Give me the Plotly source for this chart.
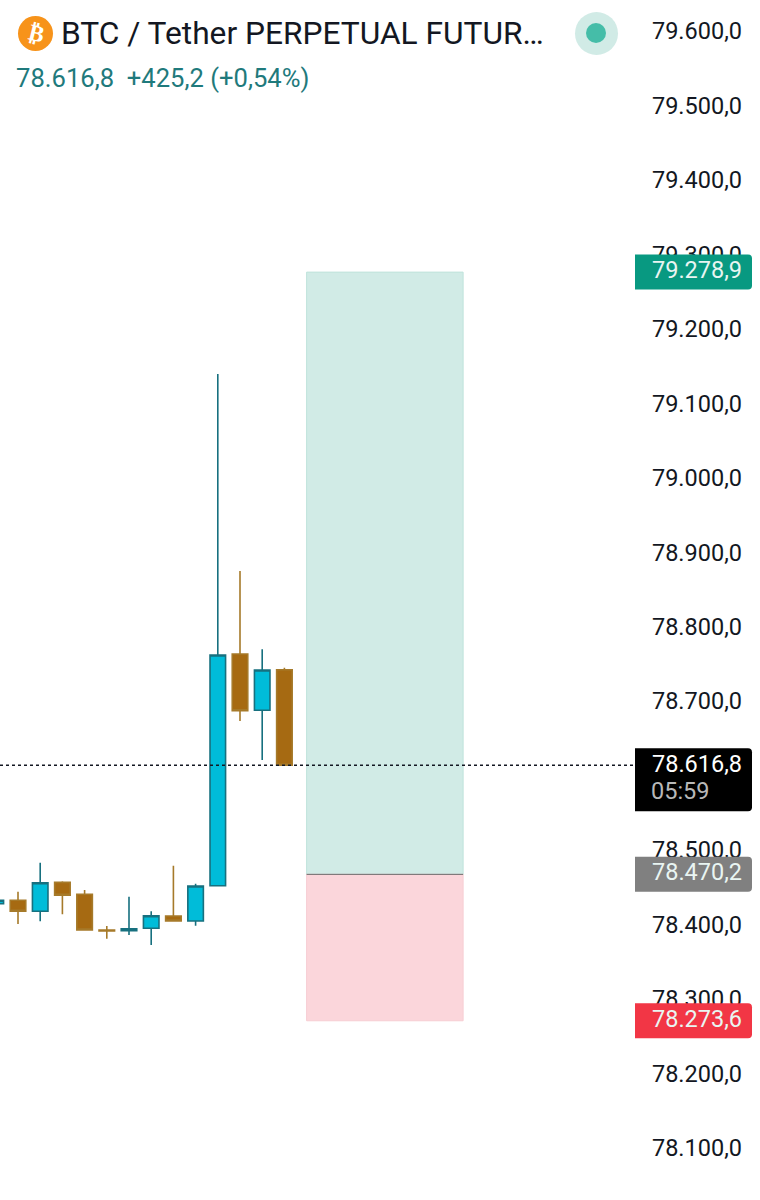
import plotly.graph_objects as go

W, H = 760, 1200

# ---- Data ----
candle_index = [-1, 0, 1, 2, 3, 4, 5, 6, 7, 8, 9, 10, 11, 12]
opens  = [78430.8, 78435.4, 78420.6, 78459.5, 78443.4, 78395.5, 78394.5, 78397.8, 78414.3, 78407.6, 78455.0, 78766.1, 78690.5, 78745.0]
highs  = [78435.4, 78446.9, 78485.9, 78460.9, 78449.2, 78400.9, 78440.2, 78420.6, 78481.8, 78457.7, 79142.1, 78877.6, 78772.4, 78747.7]
lows   = [78430.8, 78403.5, 78407.2, 78416.6, 78395.5, 78383.8, 78388.8, 78375.3, 78407.6, 78401.3, 78455.0, 78676.1, 78623.8, 78616.8]
closes = [78435.4, 78420.6, 78459.0, 78442.1, 78395.5, 78394.1, 78397.2, 78414.7, 78407.6, 78454.6, 78764.8, 78690.0, 78744.6, 78616.8]

tick_values = [79600, 79500, 79400, 79300, 79200, 79100, 79000, 78900, 78800, 78700, 78500, 78400, 78300, 78200, 78100]
tick_labels = ["79.600,0", "79.500,0", "79.400,0", "79.300,0", "79.200,0", "79.100,0", "79.000,0", "78.900,0",
               "78.800,0", "78.700,0", "78.500,0", "78.400,0", "78.300,0", "78.200,0", "78.100,0"]

position_bars = [13.0, 20.05]
take_profit = 79278.9
entry_price = 78470.2
stop_loss = 78273.6
last_price = 78616.8

tag_prices = [take_profit, entry_price, stop_loss]
tag_labels = ["79.278,9", "78.470,2", "78.273,6"]
last_label = "78.616,8"
countdown = "05:59"
title_text = "BTC / Tether PERPETUAL FUTUR…"
quote_text = "78.616,8&nbsp;&nbsp;+425,2 (+0,54%)"

# ---- Styles ----
UP_FILL, UP_LINE = "#00BCD9", "#17707F"
DOWN_FILL, DOWN_LINE = "#A66A12", "#A67A2A"
GREEN_TAG, GRAY_TAG, RED_TAG = "#089981", "#808080", "#F23645"
TAG_COLORS = [GREEN_TAG, GRAY_TAG, RED_TAG]
FONT = "Roboto, sans-serif"
LABEL_SIZE = 23.5


def px(x):
    return x / W


def py(y):
    return 1 - y / H


fig = go.Figure()
fig.add_trace(go.Candlestick(
    x=candle_index, open=opens, high=highs, low=lows, close=closes,
    increasing=dict(line=dict(color=UP_LINE, width=1.6), fillcolor=UP_FILL),
    decreasing=dict(line=dict(color=DOWN_LINE, width=1.6), fillcolor=DOWN_FILL),
    whiskerwidth=0, hoverinfo="skip", showlegend=False,
))

shapes = [
    dict(type="rect", xref="x", yref="y", x0=position_bars[0], x1=position_bars[1],
         y0=entry_price, y1=take_profit, fillcolor="#D1EBE6",
         line=dict(color="#BFE3DC", width=1), layer="below"),
    dict(type="rect", xref="x", yref="y", x0=position_bars[0], x1=position_bars[1],
         y0=stop_loss, y1=entry_price, fillcolor="#FBD6DB",
         line=dict(color="#F7CDD3", width=1), layer="below"),
    dict(type="line", xref="x", yref="y", x0=position_bars[0], x1=position_bars[1],
         y0=entry_price, y1=entry_price, line=dict(color="#6E6E6E", width=1)),
    dict(type="line", xref="paper", yref="y", x0=0, x1=px(635),
         y0=last_price, y1=last_price, line=dict(color="#131722", width=1.5, dash="dot")),
    # header icon and status dot
    dict(type="circle", xref="paper", yref="paper", x0=px(18), x1=px(53), y0=py(51), y1=py(16),
         fillcolor="#F7931A", line=dict(width=0)),
    dict(type="circle", xref="paper", yref="paper", x0=px(575), x1=px(618), y0=py(55), y1=py(12),
         fillcolor="#D1EBE6", line=dict(width=0)),
    dict(type="circle", xref="paper", yref="paper", x0=px(586), x1=px(606), y0=py(43), y1=py(23),
         fillcolor="#45BDA8", line=dict(width=0)),
]


def tag(price, color, up, down):
    return dict(type="path", xref="paper", yref="y", xsizemode="pixel", ysizemode="pixel",
                xanchor=px(635), yanchor=price,
                path=f"M0,{up} H113 Q117,{up} 117,{up-4} V{down+4} Q117,{down} 113,{down} H0 Z",
                fillcolor=color, line=dict(width=0), layer="above")


for p, c in zip(tag_prices, TAG_COLORS):
    shapes.append(tag(p, c, 17.5, -17.5))
shapes.append(tag(last_price, "#000000", 17, -46))

annotations = []
for p, t in zip(tag_prices, tag_labels):
    annotations.append(dict(xref="paper", yref="y", x=px(744), y=p, text=t, showarrow=False,
                            xanchor="right", yanchor="middle", yshift=2,
                            font=dict(family=FONT, size=LABEL_SIZE, color="#E9F5F2")))
annotations.append(dict(xref="paper", yref="y", x=px(744), y=last_price, text=last_label, showarrow=False,
                        xanchor="right", yanchor="middle", yshift=1,
                        font=dict(family=FONT, size=LABEL_SIZE, color="#FFFFFF")))
annotations.append(dict(xref="paper", yref="y", x=px(649), y=last_price, text=countdown, showarrow=False,
                        xanchor="left", yanchor="middle", yshift=-26,
                        font=dict(family=FONT, size=LABEL_SIZE, color="#B8B8B8")))
annotations.append(dict(xref="paper", yref="paper", x=px(59), y=py(34), text=title_text, showarrow=False,
                        xanchor="left", yanchor="middle",
                        font=dict(family=FONT, size=31.7, color="#131722")))
annotations.append(dict(xref="paper", yref="paper", x=px(14), y=py(78), text=quote_text, showarrow=False,
                        xanchor="left", yanchor="middle",
                        font=dict(family=FONT, size=25.6, color="#1F7A7C")))
annotations.append(dict(xref="paper", yref="paper", x=px(36), y=py(33), text="<b>₿</b>", showarrow=False,
                        xanchor="center", yanchor="middle", textangle=14,
                        font=dict(family="DejaVu Sans", size=23, color="#FFFFFF")))

# scale: 1 bar = 22.2 px, bar 0 centred at x=18; 1 unit = 0.7447 px, 79600 at y=33
x_range = [-18 / 22.2, (W - 18) / 22.2]
y_range = [79600 - (H - 33) / 0.7447, 79600 + 33 / 0.7447]

fig.update_layout(
    width=W, height=H,
    margin=dict(l=0, r=0, t=0, b=0, pad=0),
    paper_bgcolor="#FFFFFF", plot_bgcolor="#FFFFFF",
    boxgap=0.3, boxgroupgap=0,
    showlegend=False,
    xaxis=dict(range=x_range, visible=False, rangeslider=dict(visible=False), fixedrange=True),
    yaxis=dict(range=y_range, side="right", tickmode="array", tickvals=tick_values, ticktext=tick_labels,
               ticklabelposition="inside", ticks="", showgrid=False, zeroline=False, showline=False,
               ticklabelstandoff=15, ticklabelshift=-2, fixedrange=True,
               tickfont=dict(family=FONT, size=LABEL_SIZE, color="#131722")),
    shapes=shapes,
    annotations=annotations,
)

fig.write_html("out.html", config=dict(displayModeBar=False),
               post_script="document.body.style.margin='0';document.documentElement.style.margin='0';")
